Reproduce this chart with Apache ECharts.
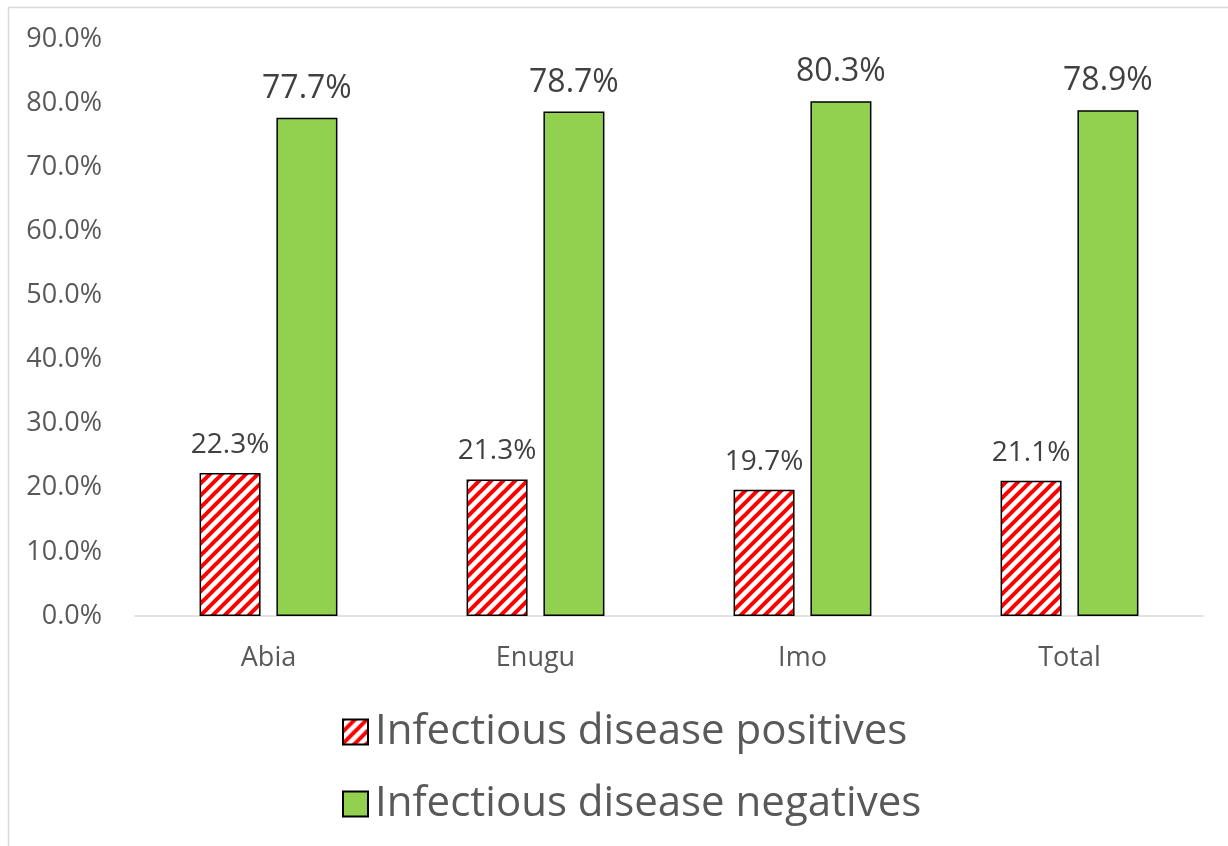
<!DOCTYPE html>
<html>
<head>
<meta charset="utf-8">
<script src="https://cdn.jsdelivr.net/npm/echarts@6/dist/echarts.min.js"></script>
<style>
  html, body { margin: 0; padding: 0; background: #ffffff; }
  #chart { width: 1228px; height: 846px; }
</style>
</head>
<body>
<div id="chart"></div>
<script>
// Chart data
const categories = ['Abia', 'Enugu', 'Imo', 'Total'];
const positives = [22.3, 21.3, 19.7, 21.1];
const negatives = [77.7, 78.7, 80.3, 78.9];
const seriesNames = ['Infectious disease positives', 'Infectious disease negatives'];

// Red diagonal hatch fill for the positives series
function makeHatch() {
  const s = 12;
  const c = document.createElement('canvas');
  c.width = s; c.height = s;
  const g = c.getContext('2d');
  g.fillStyle = '#ffffff';
  g.fillRect(0, 0, s, s);
  g.strokeStyle = '#ff0000';
  g.lineWidth = 4;
  g.lineCap = 'square';
  [-s, 0, s].forEach(dx => {
    g.beginPath();
    g.moveTo(dx - 1, s + 1);
    g.lineTo(dx + s + 1, -1);
    g.stroke();
  });
  return { image: c, repeat: 'repeat' };
}

const font = '"Open Sans", sans-serif';
const chart = echarts.init(document.getElementById('chart'), null, { renderer: 'canvas' });

chart.setOption({
  backgroundColor: '#ffffff',
  animation: false,
  graphic: [{
    type: 'rect',
    shape: { x: 8.5, y: 7.5, width: 1400, height: 1000 },
    style: { fill: 'none', stroke: '#d9d9d9', lineWidth: 1.5 },
    silent: true
  }],
  grid: { left: 135, right: 25, top: 39, bottom: 230 },
  legend: {
    orient: 'vertical',
    left: 337,
    top: 706,
    icon: 'rect',
    itemWidth: 25,
    itemHeight: 25,
    itemGap: 30,
    textStyle: { fontFamily: font, fontSize: 42, color: '#595959', padding: [0, 0, 0, 2] },
    data: seriesNames
  },
  xAxis: {
    type: 'category',
    data: categories,
    axisLine: { show: true, lineStyle: { color: '#d9d9d9', width: 1.5 } },
    axisTick: { show: false },
    axisLabel: { fontFamily: font, fontSize: 27, color: '#595959', margin: 29 }
  },
  yAxis: {
    type: 'value',
    min: 0,
    max: 90,
    interval: 10,
    axisLine: { show: false },
    axisTick: { show: false },
    splitLine: { show: false },
    axisLabel: {
      fontFamily: font, fontSize: 27, color: '#595959', margin: 33,
      formatter: v => v.toFixed(1) + '%'
    }
  },
  series: [
    {
      name: seriesNames[0],
      type: 'bar',
      data: positives,
      barWidth: 61,
      barGap: '26%',
      itemStyle: { color: makeHatch(), borderColor: '#000000', borderWidth: 1.5 },
      label: {
        show: true, position: 'top', distance: 14,
        fontFamily: font, fontSize: 28, color: '#404040',
        formatter: p => p.value.toFixed(1) + '%'
      }
    },
    {
      name: seriesNames[1],
      type: 'bar',
      data: negatives,
      barWidth: 61,
      itemStyle: { color: '#92d050', borderColor: '#000000', borderWidth: 1.5 },
      label: {
        show: true, position: 'top', distance: 13,
        fontFamily: font, fontSize: 32, color: '#404040',
        formatter: p => p.value.toFixed(1) + '%'
      }
    }
  ]
});
</script>
</body>
</html>
